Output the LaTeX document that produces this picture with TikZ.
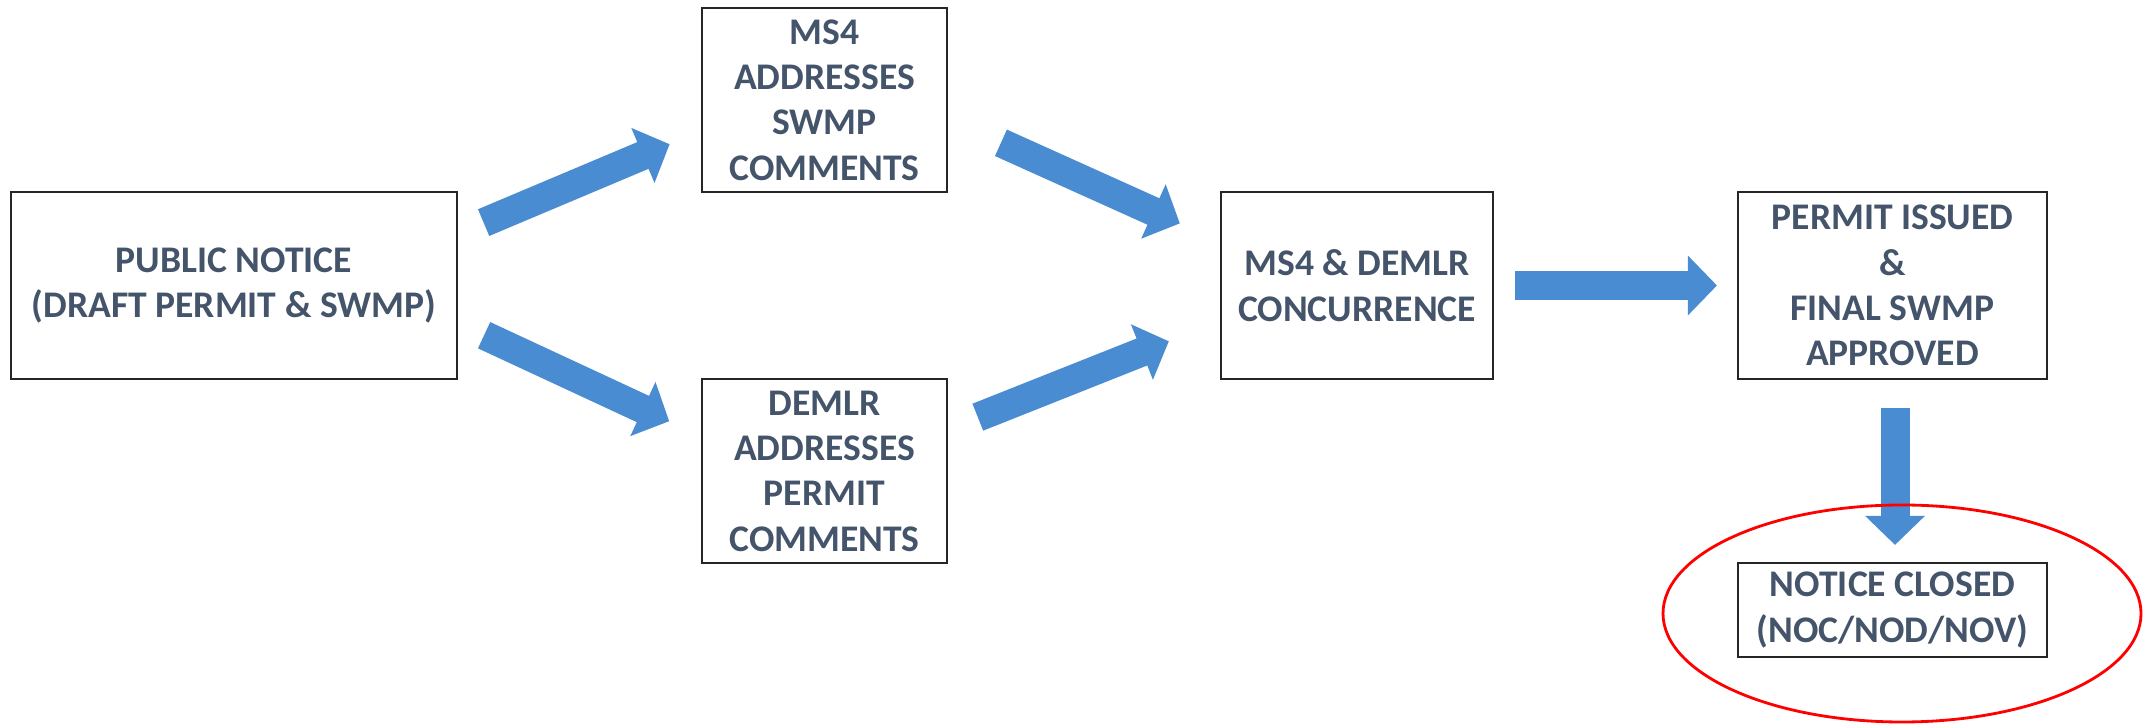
\documentclass[tikz,border=0pt]{standalone}
\usepackage{fontspec}
\setmainfont{Carlito}
\usetikzlibrary{arrows.meta}
\definecolor{flowblue}{HTML}{4A8CD2}
\definecolor{textslate}{HTML}{44546A}
\begin{document}
\begin{tikzpicture}[
    box/.style={draw=black!85,line width=0.6pt,align=center,inner sep=0pt,
      text=textslate,font=\bfseries\fontsize{10.7}{12.9}\selectfont},
    flow/.style={flowblue,line width=0.29cm,-{Triangle[width=0.58cm,length=0.29cm]}}]
  \useasboundingbox (0,0) rectangle (21.43,7.25);
  \node[box,minimum width=4.455cm,minimum height=1.87cm] (pub) at (2.34,4.395) {PUBLIC NOTICE\\(DRAFT PERMIT \& SWMP)};
  \node[box,minimum width=2.45cm,minimum height=1.84cm] (ms4) at (8.245,6.25) {MS4\\ADDRESSES\\SWMP\\COMMENTS};
  \node[box,minimum width=2.45cm,minimum height=1.84cm] (demlr) at (8.245,2.54) {DEMLR\\ADDRESSES\\PERMIT\\COMMENTS};
  \node[box,minimum width=2.72cm,minimum height=1.87cm] (conc) at (13.57,4.395) {MS4 \& DEMLR\\CONCURRENCE};
  \node[box,minimum width=3.09cm,minimum height=1.87cm] (issued) at (18.925,4.395) {PERMIT ISSUED\\\&\\FINAL SWMP\\APPROVED};
  \node[box,minimum width=3.09cm,minimum height=0.94cm] (closed) at (18.925,1.15) {NOTICE CLOSED\\(NOC/NOD/NOV)};
  \draw[flow,shorten <=2.8mm,shorten >=3.4mm] ([yshift=5.2mm]pub.east) -- ([yshift=-3.1mm]ms4.west);
  \draw[flow,shorten <=2.9mm,shorten >=3.5mm] ([yshift=-3.75mm]pub.east) -- ([yshift=3.5mm]demlr.west);
  \draw[flow,shorten <=5.8mm,shorten >=4.4mm] ([yshift=-1.9mm]ms4.east) -- ([yshift=4.4mm]conc.west);
  \draw[flow,shorten <=3.2mm,shorten >=5.5mm] ([yshift=4.2mm]demlr.east) -- ([yshift=-3.55mm]conc.west);
  \draw[flow,shorten <=2.1mm,shorten >=2mm] (conc) -- (issued);
  \draw[flow,shorten <=2.8mm,shorten >=1.7mm] ([xshift=0.25mm]issued.south) -- ([xshift=0.25mm]closed.north);
  \draw[red,line width=0.8pt] (19.02,1.115) ellipse [x radius=2.39cm,y radius=1.085cm];
\end{tikzpicture}
\end{document}
